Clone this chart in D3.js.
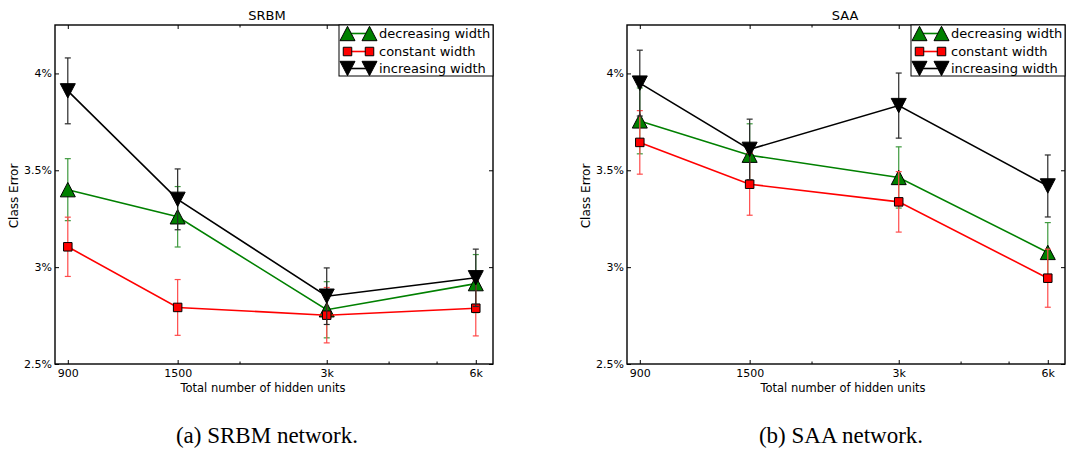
<!DOCTYPE html>
<html>
<head>
<meta charset="utf-8">
<script src="https://cdn.jsdelivr.net/npm/d3@7"></script>
<style>
  html, body { margin: 0; padding: 0; background: #fff; }
  svg { display: block; }
</style>
</head>
<body>
<svg id="chart" width="1066" height="451"></svg>
<script>
// ---------- data ----------
const hiddenUnits = [900, 1500, 3000, 6000];
const xTickLabels = ["900", "1500", "3k", "6k"];
const xMinorTicks = [2000, 4000, 5000];
const yTickValues = [2.5, 3, 3.5, 4];
const yTickLabels = ["2.5%", "3%", "3.5%", "4%"];
const seriesNames = ["decreasing width", "constant width", "increasing width"];

const srbmDecreasing = [3.40, 3.26, 2.78, 2.915];
const srbmDecreasingErr = [0.16, 0.156, 0.145, 0.15];
const srbmConstant = [3.105, 2.792, 2.752, 2.788];
const srbmConstantErr = [0.153, 0.144, 0.143, 0.143];
const srbmIncreasing = [3.91, 3.35, 2.85, 2.945];
const srbmIncreasingErr = [0.17, 0.157, 0.146, 0.148];

const saaDecreasing = [3.755, 3.578, 3.463, 3.076];
const saaDecreasingErr = [0.17, 0.162, 0.158, 0.154];
const saaConstant = [3.644, 3.428, 3.337, 2.943];
const saaConstantErr = [0.164, 0.16, 0.156, 0.15];
const saaIncreasing = [3.95, 3.608, 3.834, 3.419];
const saaIncreasingErr = [0.17, 0.156, 0.168, 0.16];

// ---------- layout ----------
const svg = d3.select("#chart");
svg.append("rect").attr("width", 1066).attr("height", 451).attr("fill", "#fff");

const FONT = "DejaVu Sans, sans-serif";
const styles = [
  { color: "#008000", err: "#3f9a3f", marker: "up" },
  { color: "#ff0000", err: "#ff4a4a", marker: "square" },
  { color: "#000000", err: "#2a2a2a", marker: "down" }
];

const panels = [
  { title: "SRBM", caption: "(a) SRBM network.", x0: 55, x1: 493, titleX: 267, xlabelX: 263, ylabelX: 14, captionX: 267,
    values: [srbmDecreasing, srbmConstant, srbmIncreasing], errs: [srbmDecreasingErr, srbmConstantErr, srbmIncreasingErr] },
  { title: "SAA", caption: "(b) SAA network.", x0: 627, x1: 1065, titleX: 845, xlabelX: 843, ylabelX: 586, captionX: 841,
    values: [saaDecreasing, saaConstant, saaIncreasing], errs: [saaDecreasingErr, saaConstantErr, saaIncreasingErr] }
];

const yTop = 25, yBottom = 364;

function markerPath(type, s) {
  if (type === "up") {
    const hw = s / 2, hh = s * 0.48;
    return `M0,${-hh}L${hw},${hh}L${-hw},${hh}Z`;
  } else if (type === "down") {
    const hw = s / 2, hh = s * 0.48;
    return `M0,${hh}L${hw},${-hh}L${-hw},${-hh}Z`;
  } else {
    const h = s / 2;
    return `M${-h},${-h}H${h}V${h}H${-h}Z`;
  }
}
function markerSize(type) { return type === "square" ? 8.5 : 15; }

panels.forEach(p => {
  const g = svg.append("g");
  const x = d3.scaleLog().domain([848, 6500]).range([p.x0, p.x1]);
  const y = d3.scaleLinear().domain([2.5, 4.25]).range([yBottom, yTop]);

  // axes (ticks inward)
  const fmtX = d => xTickLabels[hiddenUnits.indexOf(d)];
  const fmtY = d => yTickLabels[yTickValues.indexOf(d)];

  const bottom = g.append("g").attr("transform", `translate(0,${yBottom})`)
    .call(d3.axisBottom(x).tickValues(hiddenUnits).tickFormat(fmtX).tickSize(-4).tickPadding(5));
  const top = g.append("g").attr("transform", `translate(0,${yTop})`)
    .call(d3.axisTop(x).tickValues(hiddenUnits).tickFormat("").tickSize(-4));
  const bottomMinor = g.append("g").attr("transform", `translate(0,${yBottom})`)
    .call(d3.axisBottom(x).tickValues(xMinorTicks).tickFormat("").tickSize(-2.5));
  const topMinor = g.append("g").attr("transform", `translate(0,${yTop})`)
    .call(d3.axisTop(x).tickValues(xMinorTicks).tickFormat("").tickSize(-2.5));
  const left = g.append("g").attr("transform", `translate(${p.x0},0)`)
    .call(d3.axisLeft(y).tickValues(yTickValues).tickFormat(fmtY).tickSize(-4).tickPadding(3));
  const right = g.append("g").attr("transform", `translate(${p.x1},0)`)
    .call(d3.axisRight(y).tickValues(yTickValues).tickFormat("").tickSize(-4));

  [bottom, top, bottomMinor, topMinor, left, right].forEach(a => {
    a.select(".domain").remove();
    a.selectAll("line").attr("stroke", "#000").attr("stroke-width", 1);
    a.selectAll("text").attr("font-family", FONT).attr("font-size", 11).attr("fill", "#000");
  });

  // box
  g.append("rect").attr("x", p.x0).attr("y", yTop).attr("width", p.x1 - p.x0).attr("height", yBottom - yTop)
    .attr("fill", "none").attr("stroke", "#000").attr("stroke-width", 1.4);

  // title & labels
  g.append("text").attr("x", p.titleX).attr("y", 20).attr("text-anchor", "middle")
    .attr("font-family", FONT).attr("font-size", 13).text(p.title);
  g.append("text").attr("x", p.xlabelX).attr("y", 392).attr("text-anchor", "middle")
    .attr("font-family", FONT).attr("font-size", 11.5).text("Total number of hidden units");
  g.append("text").attr("transform", `translate(${p.ylabelX},196) rotate(-90)`).attr("text-anchor", "middle")
    .attr("dominant-baseline", "central")
    .attr("font-family", FONT).attr("font-size", 12).text("Class Error");
  g.append("text").attr("x", p.captionX).attr("y", 443).attr("text-anchor", "middle")
    .attr("font-family", "Liberation Serif, Times New Roman, serif").attr("font-size", 23).text(p.caption);

  // series
  const line = d3.line().x((d, i) => x(hiddenUnits[i])).y(d => y(d));
  p.values.forEach((vals, si) => {
    const st = styles[si];
    const errs = p.errs[si];
    const sg = g.append("g");
    // error bars
    vals.forEach((v, i) => {
      const cx = x(hiddenUnits[i]);
      const lo = y(v - errs[i]), hi = y(v + errs[i]);
      sg.append("line").attr("x1", cx).attr("x2", cx).attr("y1", lo).attr("y2", hi)
        .attr("stroke", st.err).attr("stroke-width", 1.2);
      [lo, hi].forEach(yy => sg.append("line").attr("x1", cx - 3).attr("x2", cx + 3).attr("y1", yy).attr("y2", yy)
        .attr("stroke", st.err).attr("stroke-width", 1.2));
    });
    sg.append("path").datum(vals).attr("d", line).attr("fill", "none")
      .attr("stroke", st.color).attr("stroke-width", 1.6);
    vals.forEach((v, i) => {
      sg.append("path").attr("d", markerPath(st.marker, markerSize(st.marker)))
        .attr("transform", `translate(${x(hiddenUnits[i])},${y(v)})`)
        .attr("fill", st.color).attr("stroke", "#000").attr("stroke-width", 1);
    });
  });

  // legend
  const lx = p.x0 + 284, lw = 154;
  const lg = g.append("g");
  lg.append("rect").attr("x", lx).attr("y", yTop).attr("width", lw).attr("height", 51)
    .attr("fill", "#fff").attr("stroke", "#000").attr("stroke-width", 1);
  const rowY = [33.5, 51.5, 68.5];
  seriesNames.forEach((name, si) => {
    const st = styles[si];
    const ry = rowY[si];
    lg.append("line").attr("x1", lx + 8.5).attr("x2", lx + 30.5).attr("y1", ry).attr("y2", ry)
      .attr("stroke", st.color).attr("stroke-width", 1.6);
    [lx + 8.5, lx + 30.5].forEach(mx => {
      lg.append("path").attr("d", markerPath(st.marker, markerSize(st.marker)))
        .attr("transform", `translate(${mx},${ry})`)
        .attr("fill", st.color).attr("stroke", "#000").attr("stroke-width", 1);
    });
    lg.append("text").attr("x", lx + 40).attr("y", ry + 4.6)
      .attr("font-family", FONT).attr("font-size", 13).text(name);
  });
});
</script>
</body>
</html>
